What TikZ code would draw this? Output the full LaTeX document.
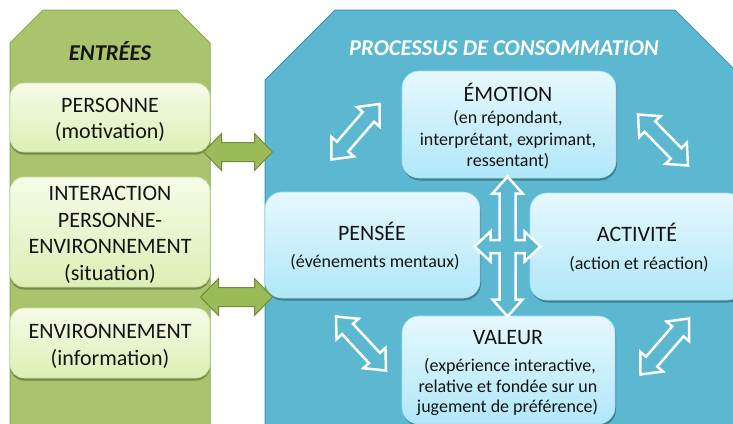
\documentclass[tikz,border=0pt]{standalone}
\usepackage{fontspec}
\setmainfont{Carlito}
\usetikzlibrary{calc,shadows}
\definecolor{gcol}{HTML}{A9C46C}
\definecolor{gline}{HTML}{8BA655}
\definecolor{bcol}{HTML}{5BB8D0}
\definecolor{bline}{HTML}{4592A8}
\definecolor{garrow}{HTML}{9BBB59}
\definecolor{garrowline}{HTML}{71893F}
\definecolor{gtop}{HTML}{F5FBE8}
\definecolor{gbot}{HTML}{DCEFB4}
\definecolor{gbord}{HTML}{C9DE9A}
\definecolor{btop}{HTML}{E6F8FD}
\definecolor{bbot}{HTML}{B0E7F8}
\definecolor{bbord}{HTML}{A4DDEF}
\definecolor{ink}{HTML}{141414}
% #1 style, #2 A, #3 B, #4 shaft half-width, #5 head half-width, #6 head length
\newcommand\dblarrow[6]{%
  \path[#1] ($(#2)!#6!(#3)!#4!90:(#3)$) -- ($(#2)!#6!(#3)!#5!90:(#3)$) -- (#2)
    -- ($(#2)!#6!(#3)!#5!-90:(#3)$) -- ($(#2)!#6!(#3)!#4!-90:(#3)$)
    -- ($(#3)!#6!(#2)!#4!90:(#2)$) -- ($(#3)!#6!(#2)!#5!90:(#2)$) -- (#3)
    -- ($(#3)!#6!(#2)!#5!-90:(#2)$) -- ($(#3)!#6!(#2)!#4!-90:(#2)$) -- cycle;}
\begin{document}
\begin{tikzpicture}[x=1pt,y=-1pt,
  gbox/.style={draw=gbord, line width=0.6pt, rounded corners=14pt, top color=gtop, bottom color=gbot,
    minimum width=200pt, inner sep=0pt,
    drop shadow={shadow xshift=0pt, shadow yshift=-2.5pt, opacity=0.3, fill=black}},
  bbox/.style={draw=bbord, line width=0.6pt, rounded corners=17pt, top color=btop, bottom color=bbot,
    inner sep=0pt,
    drop shadow={shadow xshift=1pt, shadow yshift=-2.5pt, opacity=0.3, fill=black}},
  big/.style={font=\fontsize{22}{26}\selectfont, text=ink, anchor=base, inner sep=0pt},
  small/.style={font=\fontsize{18}{22}\selectfont, text=ink, anchor=base, inner sep=0pt},
  head/.style={font=\fontsize{22.6}{27}\selectfont\bfseries\itshape, anchor=base, inner sep=0pt},
  warrow/.style={draw=white, line width=2.5pt, fill=bcol, line join=miter},
  garr/.style={draw=garrowline, line width=1pt, fill=garrow, line join=miter}]
\useasboundingbox (0,0) rectangle (733,423);
\begin{scope}
\clip (0,0) rectangle (733,423);
% columns
\path[fill=gcol, draw=gline, line width=1pt] (10,430) -- (10,43) -- (43,10) -- (177,10) -- (210,43) -- (210,430) -- cycle;
\path[fill=bcol, draw=bline, line width=1pt] (265,430) -- (265,80) -- (335,10) -- (675,10) -- (745,80) -- (745,430) -- cycle;
% titles
\node[head, text=ink] (entrees) at (110,60.7) {ENTRÉES};
\node[head, text=white] (proc) at (504,55) {PROCESSUS DE CONSOMMATION};
% green boxes
\node[gbox, minimum height=69pt] (pers) at (110,117.5) {};
\node[gbox, minimum height=110pt] (inter) at (110,232) {};
\node[gbox, minimum height=70pt] (env) at (110,343) {};
\node[big] (persA) at (110,112.7) {PERSONNE};
\node[big] (persB) at (110,138.5) {(motivation)};
\node[big] (interA) at (110,200) {INTERACTION};
\node[big] (interB) at (110,227) {PERSONNE-};
\node[big] (interC) at (110,253.5) {ENVIRONNEMENT};
\node[big] (interD) at (110,280) {(situation)};
\node[big] (envA) at (110,338.5) {ENVIRONNEMENT};
\node[big] (envB) at (110,365) {(information)};
% blue boxes
\node[bbox, minimum width=214pt, minimum height=107pt] (emo) at (509,124.5) {};
\node[bbox, minimum width=215pt, minimum height=106pt] (pen) at (372.5,245) {};
\node[bbox, minimum width=214pt, minimum height=107pt] (act) at (637,246.5) {};
\node[bbox, minimum width=213pt, minimum height=108pt] (val) at (508.5,370) {};
\node[big] (emoA) at (508,101.7) {ÉMOTION};
\node[small] (emoB) at (508,123.5) {(en répondant,};
\node[small] (emoC) at (508,145) {interprétant, exprimant,};
\node[small] (emoD) at (508,166.5) {ressentant)};
\node[big] (penA) at (372,240) {PENSÉE};
\node[small] (penB) at (375,267.3) {(événements mentaux)};
\node[big] (actA) at (637,241.7) {ACTIVITÉ};
\node[small] (actB) at (639,269) {(action et réaction)};
\node[big] (valA) at (508,344) {VALEUR};
\node[small] (valB) at (510,371.7) {(expérience interactive,};
\node[small] (valC) at (508,392.3) {relative et fondée sur un};
\node[small] (valD) at (507.5,412.7) {jugement de préférence)};
% white double arrows
\coordinate (tlA) at (331.5,159.5); \coordinate (tlB) at (379.5,104);
\coordinate (trA) at (638,114.5);   \coordinate (trB) at (688,165.5);
\coordinate (blA) at (336,316.5);   \coordinate (blB) at (386,370.5);
\coordinate (brA) at (640.5,374.5); \coordinate (brB) at (689,318.5);
\dblarrow{warrow}{tlA}{tlB}{7.5pt}{15pt}{17pt}
\dblarrow{warrow}{trA}{trB}{7.5pt}{15pt}{17pt}
\dblarrow{warrow}{blA}{blB}{7.5pt}{15pt}{17pt}
\dblarrow{warrow}{brA}{brB}{7.5pt}{15pt}{17pt}
% central four-way arrow
\coordinate (cr) at (507.5,246.5);
\path[warrow, shift={(cr)}] (0,-70) -- (15,-53) -- (8,-53) -- (8,-6.5) -- (17,-6.5) -- (17,-15) -- (33,0)
  -- (17,15) -- (17,6.5) -- (8,6.5) -- (8,53) -- (15,53) -- (0,70) -- (-15,53) -- (-8,53)
  -- (-8,6.5) -- (-17,6.5) -- (-17,15) -- (-33,0) -- (-17,-15) -- (-17,-6.5) -- (-8,-6.5)
  -- (-8,-53) -- (-15,-53) -- cycle;
% green double arrows
\coordinate (g1A) at (203.5,152); \coordinate (g1B) at (272.5,152);
\coordinate (g2A) at (200.5,297); \coordinate (g2B) at (272.5,297);
\dblarrow{garr}{g1A}{g1B}{9.5pt}{18.5pt}{18pt}
\dblarrow{garr}{g2A}{g2B}{9.5pt}{18.5pt}{18pt}
\end{scope}
\end{tikzpicture}
\end{document}
